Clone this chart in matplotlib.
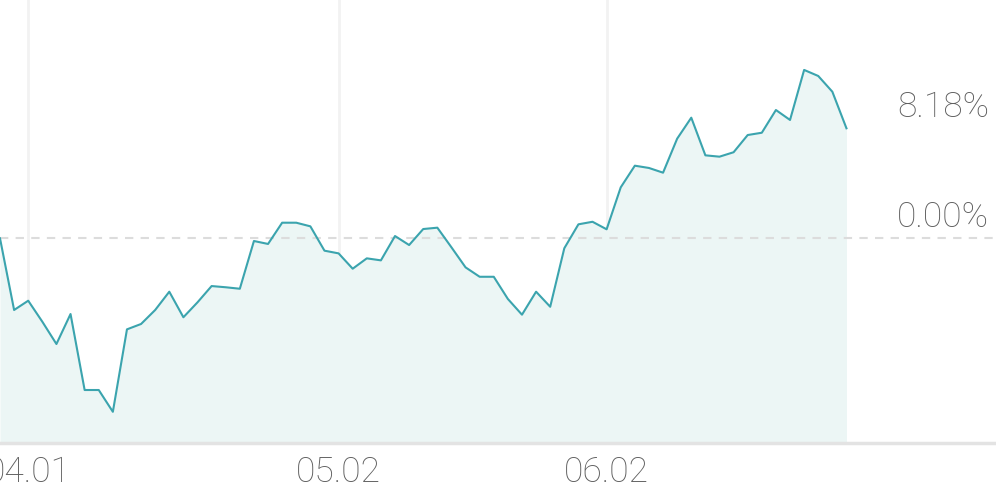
import matplotlib
matplotlib.use("Agg")
import matplotlib.pyplot as plt
import numpy as np

# cumulative return (%) per trading day
returns = [0.00, -5.33, -4.64, -6.20, -7.86, -5.63, -11.28, -11.28, -12.90, -6.77,
           -6.37, -5.33, -3.97, -5.87, -4.76, -3.55, -3.64, -3.75, -0.20, -0.42,
           1.16, 1.16, 0.89, -0.92, -1.12, -2.26, -1.49, -1.64, 0.17, -0.50,
           0.69, 0.79, -0.67, -2.16, -2.86, -2.86, -4.51, -5.68, -3.97, -5.09,
           -0.74, 1.04, 1.23, 0.67, 3.79, 5.40, 5.23, 4.88, 7.41, 8.97,
           6.17, 6.07, 6.40, 7.68, 7.85, 9.54, 8.80, 12.52, 12.07, 10.90,
           8.18]
tick_idx = [2, 24, 43]
tick_labels = ["04.01", "05.02", "06.02"]
base_label = "0.00%"
last_label = "8.18%"

line_col = "#3ba4ae"
fill_col = "#ecf6f5"
text_col = "#5e5e5e"

plt.rcParams['font.family'] = ['Roboto', 'DejaVu Sans']

fig = plt.figure(figsize=(9.96, 4.9), dpi=100)
ax = fig.add_axes([0, 47 / 490, 1, 443 / 490])

x = np.arange(len(returns))
ymin, ymax = -15.22, 17.72
ax.set_xlim(0, 70.6)
ax.set_ylim(ymin, ymax)

for t in tick_idx:
    ax.axvline(t, color="#f2f2f2", lw=2, zorder=0)

ax.fill_between(x, returns, ymin, color=fill_col, lw=0, zorder=1)
ax.plot(x, returns, color=line_col, lw=1.5, zorder=3)
ax.axhline(0, color="#dcdcdc", lw=1.5, ls=(0, (4, 3.5)), zorder=2)

for s in ["top", "left", "right"]:
    ax.spines[s].set_visible(False)
ax.spines["bottom"].set_color("#e3e3e3")
ax.spines["bottom"].set_linewidth(2.5)
ax.set_yticks([])
ax.set_xticks(tick_idx)
ax.set_xticklabels(tick_labels, fontsize=25.5, color=text_col, fontweight="light")
ax.tick_params(axis="x", length=0, pad=9)

ax.annotate(last_label, xy=(1, returns[-1]), xycoords=("axes fraction", "data"),
            xytext=(-7, 21), textcoords="offset pixels", ha="right", va="center",
            fontsize=25.5, color=text_col, fontweight="light")
ax.annotate(base_label, xy=(1, 0), xycoords=("axes fraction", "data"),
            xytext=(-7, 21), textcoords="offset pixels", ha="right", va="center",
            fontsize=25.5, color=text_col, fontweight="light")

fig.savefig("out.png", dpi=100)
